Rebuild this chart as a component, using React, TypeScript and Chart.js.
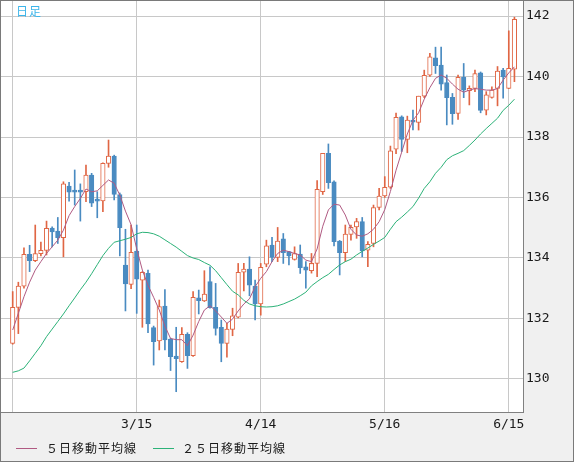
import React, { useEffect, useRef } from "react";
import { Chart, registerables } from "chart.js";

Chart.register(...registerables);

// ---- data ----
const openP = [
  131.18, 132.37, 133.07, 134.12, 133.91, 134.14, 134.25, 134.99, 134.89, 134.67,
  136.38, 136.22, 136.22, 136.19, 136.74, 135.94, 135.89, 137.13, 137.37, 136.1,
  133.77, 133.13, 134.23, 133.27, 133.49, 131.7, 131.26, 132.41, 131.32, 130.76,
  130.57, 131.48, 130.77, 132.68, 132.58, 133.22, 132.37, 131.71, 131.18, 131.64,
  132.04, 133.53, 133.63, 133.07, 132.48, 133.8, 134.43, 134.02, 134.63, 134.21,
  133.95, 134.13, 133.71, 133.58, 133.82, 136.19, 137.46, 136.52, 134.56, 134.18,
  134.78, 135.03, 135.2, 134.26, 134.48, 135.67, 136.05, 136.34, 137.6, 138.67,
  137.92, 138.56, 138.48, 139.35, 140.04, 140.62, 140.38, 139.8, 139.31, 138.78,
  139.97, 139.53, 139.61, 140.12, 138.89, 139.31, 139.61, 140.21, 139.61, 140.24,
];
const highP = [
  132.89, 133.2, 134.34, 134.42, 135.09, 134.53, 135.22, 135.03, 135.34, 136.52,
  136.5, 136.91, 136.45, 137.07, 136.8, 136.19, 137.15, 137.9, 137.4, 136.15,
  134.95, 135.09, 135.09, 133.55, 133.6, 131.75, 132.61, 132.96, 131.35, 131.71,
  131.7, 131.53, 132.89, 132.94, 133.58, 133.71, 133.16, 131.95, 131.84, 132.34,
  133.82, 133.82, 134.04, 133.27, 133.82, 134.59, 134.68, 135.01, 134.81, 134.22,
  134.37, 134.43, 133.88, 134.15, 136.56, 137.46, 137.77, 136.55, 134.58, 135.09,
  135.09, 135.31, 135.34, 134.54, 135.75, 136.3, 136.69, 137.7, 138.79, 138.7,
  138.69, 138.89, 139.35, 140.21, 140.77, 140.97, 140.97, 140.05, 139.44, 140.05,
  140.43, 139.69, 140.21, 140.15, 139.5, 139.66, 140.33, 140.27, 141.51, 141.96,
];
const lowP = [
  131.15, 131.5, 133.0, 133.55, 133.88, 134.07, 134.1, 134.37, 134.48, 134.04,
  135.88, 135.75, 135.22, 135.86, 135.7, 135.33, 135.53, 137.0, 135.92, 134.07,
  132.25, 132.99, 132.17, 131.71, 131.53, 130.46, 130.96, 130.96, 130.28, 129.58,
  130.55, 130.35, 130.75, 132.15, 132.56, 132.34, 131.45, 130.57, 130.72, 131.43,
  132.02, 132.91, 132.75, 131.95, 132.11, 133.71, 133.88, 133.88, 133.82, 133.77,
  133.93, 133.49, 133.0, 133.5, 133.38, 136.1, 136.3, 134.4, 133.44, 133.88,
  134.59, 134.65, 134.04, 133.71, 134.37, 135.59, 136.0, 136.3, 137.45, 137.52,
  137.48, 138.23, 138.23, 139.3, 140.0, 140.1, 139.55, 138.4, 138.42, 138.58,
  139.3, 139.06, 139.5, 138.8, 138.73, 139.28, 139.03, 139.28, 139.6, 139.83,
];
const closeP = [
  132.37, 133.07, 134.12, 133.91, 134.15, 134.25, 134.98, 134.86, 134.67, 136.45,
  136.18, 136.18, 136.18, 136.74, 135.81, 135.88, 137.13, 137.37, 136.1, 135.0,
  133.14, 134.19, 133.3, 133.53, 131.82, 131.23, 132.39, 131.29, 130.74, 130.67,
  131.48, 130.77, 132.7, 132.59, 132.81, 132.36, 131.67, 131.18, 131.65, 132.09,
  133.53, 133.63, 133.1, 132.48, 133.69, 134.4, 134.02, 134.56, 134.18, 134.07,
  134.15, 133.68, 133.6, 133.82, 136.27, 137.46, 136.49, 134.54, 134.18, 134.79,
  135.01, 135.2, 134.23, 134.45, 135.67, 136.05, 136.34, 137.54, 138.65, 137.92,
  138.56, 138.49, 139.35, 140.04, 140.65, 140.36, 139.75, 139.3, 138.77, 139.97,
  139.55, 139.61, 140.1, 138.88, 139.39, 139.55, 140.18, 139.99, 140.27, 141.89,
];
const ma5 = [
  131.62, 132.17, 132.72, 133.2, 133.6, 133.88, 134.15, 134.37, 134.59, 134.92,
  135.4, 135.7, 135.97, 136.28, 136.19, 136.22, 136.4, 136.58, 136.47, 136.08,
  135.55, 135.1, 134.3, 133.6, 133.1, 132.7, 132.28, 131.75, 131.34, 131.3,
  131.3, 131.1, 131.45, 131.9, 132.28, 132.42, 132.25, 132.05, 131.84, 131.98,
  132.25, 132.48, 132.65, 133.05, 133.33, 133.55, 133.88, 134.15, 134.26, 134.21,
  134.15, 134.1, 133.93, 133.88, 134.3, 135.05, 135.59, 135.78, 135.75, 135.42,
  134.95, 134.76, 134.72, 134.8, 134.95, 135.2, 135.6, 136.2, 136.9, 137.5,
  138.1, 138.55, 138.8, 139.25, 139.63, 139.94, 140.05, 139.94, 139.75, 139.58,
  139.48, 139.55, 139.6, 139.58, 139.55, 139.55, 139.6, 139.88, 140.12, 140.32,
];
const ma25 = [
  130.22, 130.27, 130.36, 130.6, 130.85, 131.1, 131.4, 131.65, 131.9, 132.15,
  132.42, 132.68, 132.95, 133.2, 133.48, 133.78, 134.08, 134.32, 134.52, 134.57,
  134.62, 134.68, 134.8, 134.85, 134.84, 134.8, 134.72, 134.6, 134.48, 134.36,
  134.22, 134.08, 134.0, 133.95, 133.85, 133.76, 133.58, 133.35, 133.12, 132.9,
  132.78, 132.6, 132.48, 132.42, 132.39, 132.38, 132.39, 132.42, 132.48, 132.56,
  132.64, 132.75, 132.87, 133.08, 133.22, 133.35, 133.46, 133.62, 133.77, 133.88,
  133.96, 134.1, 134.22, 134.33, 134.45, 134.56, 134.68, 134.95, 135.2, 135.35,
  135.52, 135.7, 135.98, 136.3, 136.52, 136.8, 137.0, 137.25, 137.38, 137.46,
  137.55, 137.72, 137.9, 138.1, 138.28, 138.45, 138.62, 138.88, 139.05, 139.25,
];
const xTickIndex = [0, 22, 44, 66, 88];
const xTickLabels = ["", "3/15", "4/14", "5/16", "6/15"];
const yTicks = [130, 132, 134, 136, 138, 140, 142];
const legendLabels = ["５日移動平均線", "２５日移動平均線"];
const periodLabel = "日足";

// ---- styles ----
const UP = "#e06644";
const DOWN = "#4a8bc1";
const MA5C = "#b05a82";
const MA25C = "#2cb278";
const GRID = "#c8c8c8";
const FRAME = "#7a7a7a";
const TEXT = "#1a1a1a";
const X_MIN = -2.075;
const X_MAX = 90.52;
const Y_MIN = 128.909;
const Y_MAX = 142.496;

const plotBg = {
  id: "plotBg",
  beforeDraw(chart: any) {
    const { ctx, chartArea } = chart;
    ctx.save();
    ctx.fillStyle = "#ffffff";
    ctx.fillRect(chartArea.left, chartArea.top, chartArea.right - chartArea.left, chartArea.bottom - chartArea.top);
    ctx.restore();
  },
};

export default function App() {
  const ref = useRef<HTMLCanvasElement>(null);

  useEffect(() => {
    const idx = openP.map((_, i) => i);
    const isUp = idx.map((i) => closeP[i] >= openP[i]);
    const tickFont = { family: "'DejaVu Sans Mono', 'Liberation Mono', monospace", size: 13 };
    const chart = new Chart(ref.current as HTMLCanvasElement, {
      type: "bar",
      data: {
        datasets: [
          {
            type: "line",
            label: legendLabels[0],
            data: idx.map((i) => ({ x: i, y: ma5[i] })),
            borderColor: MA5C,
            borderWidth: 1,
            pointRadius: 0,
            tension: 0,
            order: 0,
          } as any,
          {
            type: "line",
            label: legendLabels[1],
            data: idx.map((i) => ({ x: i, y: ma25[i] })),
            borderColor: MA25C,
            borderWidth: 1,
            pointRadius: 0,
            tension: 0,
            order: 0,
          } as any,
          {
            type: "bar",
            label: "body",
            data: idx.map((i) => ({ x: i, y: [openP[i], closeP[i]] })),
            backgroundColor: idx.map((i) => (isUp[i] ? "#ffffff" : DOWN)),
            borderColor: idx.map((i) => (isUp[i] ? UP : DOWN)),
            borderWidth: 1,
            borderSkipped: false,
            barThickness: 4.5,
            minBarLength: 2,
            grouped: false,
            order: 1,
          } as any,
          {
            type: "bar",
            label: "wick",
            data: idx.map((i) => ({ x: i, y: [lowP[i], highP[i]] })),
            backgroundColor: idx.map((i) => (isUp[i] ? UP : DOWN)),
            borderWidth: 0,
            barThickness: 1,
            grouped: false,
            order: 2,
          } as any,
        ],
      },
      options: {
        responsive: false,
        animation: false,
        events: [],
        layout: { padding: 0 },
        plugins: {
          legend: { display: false },
          tooltip: { enabled: false },
        },
        scales: {
          x: {
            type: "linear",
            min: X_MIN,
            max: X_MAX,
            offset: false,
            grid: { color: GRID, lineWidth: 1, drawTicks: false, offset: false },
            border: { display: true, color: "#808080" },
            ticks: {
              padding: 5,
              color: TEXT,
              font: tickFont,
              maxRotation: 0,
              autoSkip: false,
              callback: (v: any) => {
                const k = xTickIndex.indexOf(Number(v));
                return k >= 0 ? xTickLabels[k] : "";
              },
            },
            afterBuildTicks: (s: any) => {
              s.ticks = xTickIndex.map((v) => ({ value: v }));
            },
            afterFit: (s: any) => {
              s.height = 49;
              s.paddingLeft = 0;
              s.paddingRight = 0;
              s.paddingTop = 0;
              s.paddingBottom = 0;
            },
          },
          y: {
            type: "linear",
            position: "right",
            min: Y_MIN,
            max: Y_MAX,
            grid: { color: GRID, lineWidth: 1, drawTicks: false, offset: false },
            border: { display: true, color: "#808080" },
            ticks: {
              padding: 3,
              color: TEXT,
              font: tickFont,
              autoSkip: false,
            },
            afterBuildTicks: (s: any) => {
              s.ticks = yTicks.map((v) => ({ value: v }));
            },
            afterFit: (s: any) => {
              s.width = 50;
              s.paddingLeft = 0;
              s.paddingRight = 0;
              s.paddingTop = 0;
              s.paddingBottom = 0;
            },
          },
        },
      } as any,
      plugins: [plotBg],
    });
    return () => chart.destroy();
  }, []);

  const cjk = "'Noto Sans CJK JP', 'Noto Sans', sans-serif";
  const legendText: React.CSSProperties = {
    position: "absolute",
    top: 440,
    fontFamily: cjk,
    fontSize: 12,
    lineHeight: "14px",
    letterSpacing: 1,
    color: TEXT,
    whiteSpace: "nowrap",
  };

  return (
    <div
      style={{
        position: "absolute",
        left: 0,
        top: 0,
        width: 574,
        height: 462,
        boxSizing: "border-box",
        border: `1px solid ${FRAME}`,
        background: "#f0f0f0",
        overflow: "hidden",
      }}
    >
      <canvas ref={ref} width={572} height={460} style={{ display: "block", width: 572, height: 460 }} />
      <div
        style={{
          position: "absolute",
          left: 15,
          top: 3,
          fontFamily: cjk,
          fontSize: 12,
          lineHeight: "14px",
          letterSpacing: 1,
          color: "#3cb5ea",
        }}
      >
        {periodLabel}
      </div>
      <div style={{ position: "absolute", left: 15, top: 447, width: 21, height: 1, background: MA5C }} />
      <div style={{ ...legendText, left: 45 }}>{legendLabels[0]}</div>
      <div style={{ position: "absolute", left: 152, top: 447, width: 21, height: 1, background: MA25C }} />
      <div style={{ ...legendText, left: 181 }}>{legendLabels[1]}</div>
    </div>
  );
}
